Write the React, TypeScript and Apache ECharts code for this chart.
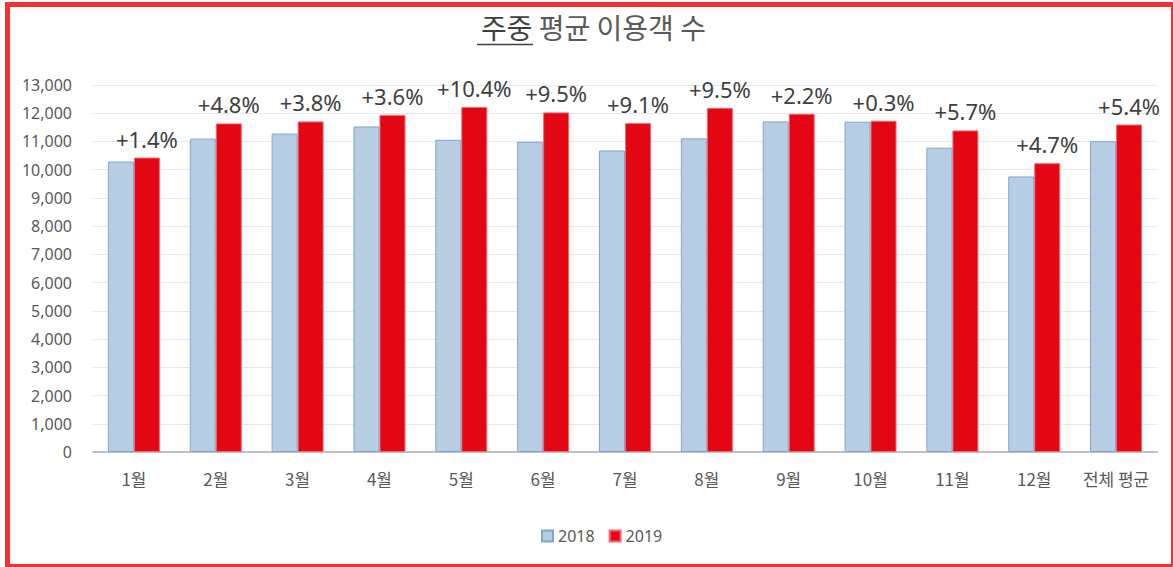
import React, { useEffect, useRef } from "react";
import * as echarts from "echarts";

const categories = ["1월", "2월", "3월", "4월", "5월", "6월", "7월", "8월", "9월", "10월", "11월", "12월", "전체 평균"];
const values2018 = [10290, 11100, 11280, 11530, 11060, 10990, 10680, 11110, 11710, 11700, 10780, 9760, 11010];
const values2019 = [10430, 11640, 11710, 11940, 12220, 12030, 11650, 12190, 11980, 11735, 11390, 10230, 11600];
const changeLabels = ["+1.4%", "+4.8%", "+3.8%", "+3.6%", "+10.4%", "+9.5%", "+9.1%", "+9.5%", "+2.2%", "+0.3%", "+5.7%", "+4.7%", "+5.4%"];
const seriesNames = ["2018", "2019"];

const FONT = "'Noto Sans CJK KR', 'Noto Sans', sans-serif";
const NUMFONT = "'Noto Sans', 'Noto Sans CJK KR', sans-serif";

export default function App() {
  const ref = useRef<HTMLDivElement>(null);
  useEffect(() => {
    if (!ref.current) return;
    const chart = echarts.init(ref.current, undefined, { renderer: "svg" });
    chart.setOption({
      animation: false,
      backgroundColor: "#ffffff",
      textStyle: { fontFamily: FONT },
      title: {
        left: 476,
        top: 8,
        text: "{u|주중} 평균 이용객 수",
        textStyle: {
          fontFamily: FONT,
          fontSize: 28,
          fontWeight: "normal",
          color: "#595959",
          rich: {
            u: { fontFamily: FONT, fontSize: 28, color: "#404040" },
          },
        },
      },
      graphic: [
        {
          type: "rect",
          shape: { x: 7.5, y: 4.5, width: 1166, height: 562 },
          style: { fill: "none", stroke: "#ee3338", lineWidth: 5 },
          silent: true,
          z: 100,
        },
        {
          type: "line",
          shape: { x1: 477, y1: 44.5, x2: 533, y2: 44.5 },
          style: { stroke: "#404040", lineWidth: 1.5 },
          silent: true,
        },
      ],
      legend: {
        bottom: 18,
        left: 536,
        itemWidth: 11,
        itemHeight: 11,
        itemGap: 14,
        icon: "rect",
        textStyle: { fontFamily: NUMFONT, fontSize: 16, color: "#595959" },
        data: seriesNames,
      },
      grid: { left: 93, right: 16, top: 85, bottom: 115, containLabel: false },
      xAxis: {
        type: "category",
        data: categories,
        axisLine: { lineStyle: { color: "#c0c0c0", width: 2 } },
        axisTick: { show: false },
        axisLabel: { fontFamily: FONT, fontSize: 17, color: "#595959", margin: 18, interval: 0 },
      },
      yAxis: {
        type: "value",
        min: 0,
        max: 13000,
        interval: 1000,
        axisLine: { show: false },
        axisTick: { show: false },
        splitLine: { lineStyle: { color: "#e8e8e8", width: 1 } },
        axisLabel: {
          fontFamily: NUMFONT,
          fontSize: 16,
          color: "#595959",
          margin: 21,
          formatter: (v: number) => v.toLocaleString("en-US"),
        },
      },
      series: [
        {
          name: seriesNames[0],
          type: "bar",
          data: values2018,
          barWidth: 26,
          barGap: "0%",
          itemStyle: { color: "#b7cde4", borderColor: "#7ea6d3", borderWidth: 1 },
        },
        {
          name: seriesNames[1],
          type: "bar",
          data: values2019,
          barWidth: 26,
          barGap: "0%",
          itemStyle: { color: "#e30613", borderColor: "#f06a70", borderWidth: 1 },
          label: {
            show: true,
            position: "top",
            distance: 8,
            fontFamily: NUMFONT,
            fontSize: 22,
            color: "#404040",
            formatter: (p: any) => changeLabels[p.dataIndex],
          },
        },
      ],
    });
    return () => chart.dispose();
  }, []);
  return (
    <div
      ref={ref}
      style={{ position: "fixed", left: 0, top: 0, width: 1173, height: 567 }}
    />
  );
}
